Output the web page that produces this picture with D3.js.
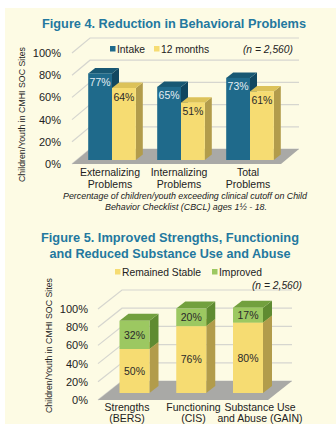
<!DOCTYPE html>
<html><head><meta charset="utf-8">
<script src="https://cdn.jsdelivr.net/npm/d3@7"></script>
<style>body{margin:0;background:#fff}svg{display:block}text{font-family:"Liberation Sans",Arial,sans-serif}</style>
</head><body><svg id="c" width="336" height="424"></svg>
<script>
// ---------- data ----------
const fig4Categories = [["Externalizing","Problems"],["Internalizing","Problems"],["Total","Problems"]];
const fig4Series = ["Intake","12 months"];
const fig4Intake = [77,65,73];
const fig4TwelveMonths = [64,51,61];
const fig5Categories = [["Strengths","(BERS)"],["Functioning","(CIS)"],["Substance Use","and Abuse (GAIN)"]];
const fig5Series = ["Remained Stable","Improved"];
const fig5Stable = [50,76,80];
const fig5Improved = [32,20,17];
const yTicks = [0,20,40,60,80,100];
const tickLabels = yTicks.map(d => d + "%");

const svg = d3.select("#c");
const titleColor = "#23789f";
const col = {
  intake:{front:"#1f6a8b",top:"#185873",side:"#114760"},
  yellow:{front:"#f6dc72",top:"#dcc259",side:"#b29c4b"},
  green:{front:"#9cc861",top:"#72a03e",side:"#5f8b31"}
};
svg.append("rect").attr("x",5).attr("y",8).attr("width",331).attr("height",416).attr("fill","#fdfbe4");

function bar3d(g, x0, w, yTop, yBot, dx, dy, c){
  g.append("polygon").attr("points",[[x0+w,yTop],[x0+w+dx,yTop+dy],[x0+w+dx,yBot+dy],[x0+w,yBot]].join(" ")).attr("fill",c.side);
  g.append("polygon").attr("points",[[x0,yTop],[x0+dx,yTop+dy],[x0+w+dx,yTop+dy],[x0+w,yTop]].join(" ")).attr("fill",c.top);
  g.append("rect").attr("x",x0).attr("y",yTop).attr("width",w).attr("height",Math.max(0,yBot-yTop)).attr("fill",c.front);
}

function frame(cfg){
  // cfg: yFront scale, wall offset, xL, xR, floor
  const g = svg.append("g");
  yTicks.forEach((t,i)=>{
    const yf = cfg.yF(t), yb = cfg.yB(t);
    g.append("polyline").attr("points",[[cfg.xL,yf],[cfg.xL+cfg.wdx,yb],[cfg.xR,yb]].join(" "))
      .attr("fill","none").attr("stroke","#d6d6cf").attr("stroke-width",1.2);
    g.append("text").attr("x",cfg.tickX).attr("y",yf).attr("dy","0.36em").attr("text-anchor","end")
      .attr("font-size",11).attr("fill","#222").text(tickLabels[i]);
  });
  // floor
  const y0f = cfg.yF(0), y0b = cfg.yB(0);
  g.append("polygon").attr("points",[[cfg.xL,y0f],[cfg.xL+cfg.wdx,y0b],[cfg.xR,y0b],[cfg.xR-cfg.wdx,y0f]].join(" ")).attr("fill","#a9a9a6");
  return g;
}

// ---------- Figure 4 ----------
svg.append("text").attr("x",174).attr("y",28.3).attr("text-anchor","middle").attr("font-size",13.5).attr("font-weight","bold")
  .attr("fill",titleColor).attr("textLength",264).attr("lengthAdjust","spacingAndGlyphs").text("Figure 4. Reduction in Behavioral Problems");

const y4F = d3.scaleLinear().domain([0,100]).range([164,53]);
const y4B = d3.scaleLinear().domain([0,100]).range([149,38]);
const y4Bar = d3.scaleLinear().domain([0,100]).range([160,47.5]);
frame({yF:y4F,yB:y4B,xL:72,wdx:18,xR:299,tickX:61});

const x4 = d3.scalePoint().domain(d3.range(fig4Categories.length)).range([112,250]);
const x4s = d3.scaleBand().domain(fig4Series).range([-23.8,23.8]);
const g4 = svg.append("g");
const fig4Values = [fig4Intake, fig4TwelveMonths];
fig4Categories.forEach((c,i)=>{
  fig4Series.forEach((s,j)=>{
    const v = fig4Values[j][i];
    const x0 = x4(i)+x4s(s), w = x4s.bandwidth();
    bar3d(g4, x0, w, y4Bar(v), y4Bar(0), 7, -5.5, j===0?col.intake:col.yellow);
    g4.append("text").attr("x",x0+w/2).attr("y",y4Bar(v)+12.5).attr("text-anchor","middle").attr("font-size",10.5)
      .attr("fill",j===0?"#e4eef3":"#2a2a2a").text(v+"%");
  });
  fig4Categories[i].forEach((line,k)=>{
    g4.append("text").attr("x",x4(i)-2).attr("y",176+k*11.5).attr("text-anchor","middle").attr("font-size",10.5)
      .attr("fill","#222").text(line);
  });
});
// legend fig 4
const leg4 = [{s:fig4Series[0],c:col.intake.front,x:110},{s:fig4Series[1],c:col.yellow.front,x:154}];
leg4.forEach(d=>{
  svg.append("rect").attr("x",d.x).attr("y",46).attr("width",5.5).attr("height",5.5).attr("fill",d.c);
  svg.append("text").attr("x",d.x+7).attr("y",52.8).attr("font-size",10.3).attr("fill","#222").text(d.s);
});
svg.append("text").attr("x",293).attr("y",52.8).attr("text-anchor","end").attr("font-size",10.3).attr("font-style","italic").attr("fill","#222").text("(n = 2,560)");
svg.append("text").attr("transform","translate(24.5,114.5) rotate(-90)").attr("text-anchor","middle").attr("font-size",9.3)
  .attr("textLength",135).attr("lengthAdjust","spacingAndGlyphs").attr("fill","#222").text("Children/Youth in CMHI SOC Sites");
svg.append("text").attr("x",185).attr("y",199).attr("text-anchor","middle").attr("font-size",9.3).attr("font-style","italic")
  .attr("textLength",244).attr("lengthAdjust","spacingAndGlyphs").attr("fill","#222").text("Percentage of children/youth exceeding clinical cutoff on Child");
svg.append("text").attr("x",186).attr("y",210).attr("text-anchor","middle").attr("font-size",9.3).attr("font-style","italic")
  .attr("textLength",162).attr("lengthAdjust","spacingAndGlyphs").attr("fill","#222").text("Behavior Checklist (CBCL) ages 1½ - 18.");

// ---------- Figure 5 ----------
svg.append("text").attr("x",170).attr("y",242.3).attr("text-anchor","middle").attr("font-size",13.5).attr("font-weight","bold")
  .attr("fill",titleColor).attr("textLength",258).attr("lengthAdjust","spacingAndGlyphs").text("Figure 5. Improved Strengths, Functioning");
svg.append("text").attr("x",170).attr("y",258.3).attr("text-anchor","middle").attr("font-size",13.5).attr("font-weight","bold")
  .attr("fill",titleColor).attr("textLength",241).attr("lengthAdjust","spacingAndGlyphs").text("and Reduced Substance Use and Abuse");

const y5F = d3.scaleLinear().domain([0,100]).range([400,309]);
const y5B = d3.scaleLinear().domain([0,100]).range([381,290]);
const y5Bar = d3.scaleLinear().domain([0,100]).range([393,305]);
frame({yF:y5F,yB:y5B,xL:98,wdx:24,xR:292,tickX:88});

const x5 = d3.scalePoint().domain(d3.range(fig5Categories.length)).range([134.5,248]);
const x5l = d3.scalePoint().domain(d3.range(fig5Categories.length)).range([127,260]);
const g5 = svg.append("g");
const bw5 = 30;
fig5Categories.forEach((c,i)=>{
  const x0 = x5(i)-bw5/2;
  const s = fig5Stable[i], im = fig5Improved[i];
  bar3d(g5, x0, bw5, y5Bar(s), y5Bar(0), 9, -7, col.yellow);
  bar3d(g5, x0, bw5, y5Bar(s+im), y5Bar(s), 9, -7, col.green);
  g5.append("text").attr("x",x0+bw5/2).attr("y",(y5Bar(s)+y5Bar(0))/2).attr("dy","0.36em").attr("text-anchor","middle")
    .attr("font-size",10.5).attr("fill","#2a2a2a").text(s+"%");
  g5.append("text").attr("x",x0+bw5/2).attr("y",(y5Bar(s)+y5Bar(s+im))/2).attr("dy","0.36em").attr("text-anchor","middle")
    .attr("font-size",10.5).attr("fill","#2a2a2a").text(im+"%");
  fig5Categories[i].forEach((line,k)=>{
    g5.append("text").attr("x",x5l(i)).attr("y",411+k*11.3).attr("text-anchor","middle").attr("font-size",10.5)
      .attr("fill","#222").text(line);
  });
});
const leg5 = [{s:fig5Series[0],c:col.yellow.front,x:115},{s:fig5Series[1],c:col.green.front,x:212}];
leg5.forEach(d=>{
  svg.append("rect").attr("x",d.x).attr("y",269).attr("width",5.5).attr("height",5.5).attr("fill",d.c);
  svg.append("text").attr("x",d.x+7).attr("y",275.8).attr("font-size",10.3).attr("fill","#222").text(d.s);
});
svg.append("text").attr("x",302).attr("y",288.8).attr("text-anchor","end").attr("font-size",10.3).attr("font-style","italic").attr("fill","#222").text("(n = 2,560)");
svg.append("text").attr("transform","translate(52,345.5) rotate(-90)").attr("text-anchor","middle").attr("font-size",9.3)
  .attr("textLength",135).attr("lengthAdjust","spacingAndGlyphs").attr("fill","#222").text("Children/Youth in CMHI SOC Sites");
</script></body></html>
